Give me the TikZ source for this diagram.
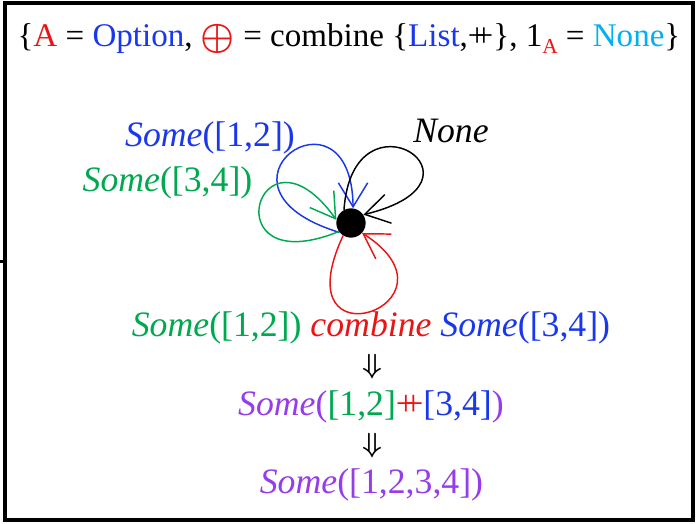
\documentclass[tikz,border=0pt]{standalone}
\usepackage{amsmath}
\usepackage{fontspec}
\setmainfont{Liberation Serif}
\usetikzlibrary{arrows.meta,bending}
\definecolor{cblue}{RGB}{25,55,235}
\definecolor{cred}{RGB}{235,20,20}
\definecolor{ccyan}{RGB}{0,176,240}
\definecolor{cgreen}{RGB}{0,168,80}
\definecolor{cpurple}{RGB}{150,60,235}
\newcommand{\dplus}{+\kern-.36em+}
\begin{document}
\begin{tikzpicture}[x=0.75pt,y=0.75pt,
  lbl/.style={inner sep=0pt, anchor=base, font=\fontsize{26.8}{30}\selectfont},
  ttl/.style={inner sep=0pt, anchor=base, font=\fontsize{24.8}{30}\selectfont},
  darr/.style={inner sep=0pt, font=\fontsize{22}{22}\selectfont},
  loopline/.style={line width=1.1pt, -{Straight Barb[length=18pt,width=22pt,line width=1.1pt]}},
  ]
\useasboundingbox (0,0) rectangle (697,-524);
\draw[line width=3pt] (4.5,-3.5) rectangle (693,-520);
\draw[line width=2.2pt] (0,-261.5) -- (5,-261.5);

\node[ttl] (title) at (349,-47) {\{{\color{cred}A} = {\color{cblue}Option}, {\color{cred}\raisebox{-0.1ex}{\scalebox{1.15}{$\boldsymbol{\oplus}$}}} = combine \{{\color{cblue}List},\dplus\}, 1\raisebox{-0.45ex}{\fontsize{16}{16}\selectfont\color{cred}A} = {\color{ccyan}None}\}};

\node[circle, fill=black, minimum size=22pt, inner sep=0pt] (dot) at (351,-223) {};

\node[lbl, text=cblue] (l12) at (210,-147) {\textit{Some}([1,2])};
\node[lbl, text=cgreen] (l34) at (167.5,-192) {\textit{Some}([3,4])};
\node[lbl] (lnone) at (451,-143) {\textit{None}};

\draw[loopline, cblue] (dot.219) .. controls +(163:155) and +(90:135) .. (dot.82);
\draw[loopline, black] (dot.118) .. controls +(86:128) and +(13:145) .. (dot.34);
\draw[loopline, cgreen] (dot.215) .. controls +(202:140) and +(125:135) .. (dot.168);
\draw[loopline, cred] (dot.238) .. controls +(245:150) and +(-32:132) .. (dot.318);

\node[lbl] (line1) at (371,-336) {{\color{cgreen}\textit{Some}([1,2])} {\color{cred}\textit{combine}} {\color{cblue}\textit{Some}([3,4])}};
\node[darr] (a1) at (372,-367) {$\boldsymbol{\Downarrow}$};
\node[lbl] (line2) at (371,-415) {{\color{cpurple}\textit{Some}(}{\color{cgreen}[1,2]}{\color{cred}\dplus}{\color{cblue}[3,4]}{\color{cpurple})}};
\node[darr] (a2) at (372,-446) {$\boldsymbol{\Downarrow}$};
\node[lbl, text=cpurple] (line3) at (371.5,-493) {\textit{Some}([1,2,3,4])};
\end{tikzpicture}
\end{document}
